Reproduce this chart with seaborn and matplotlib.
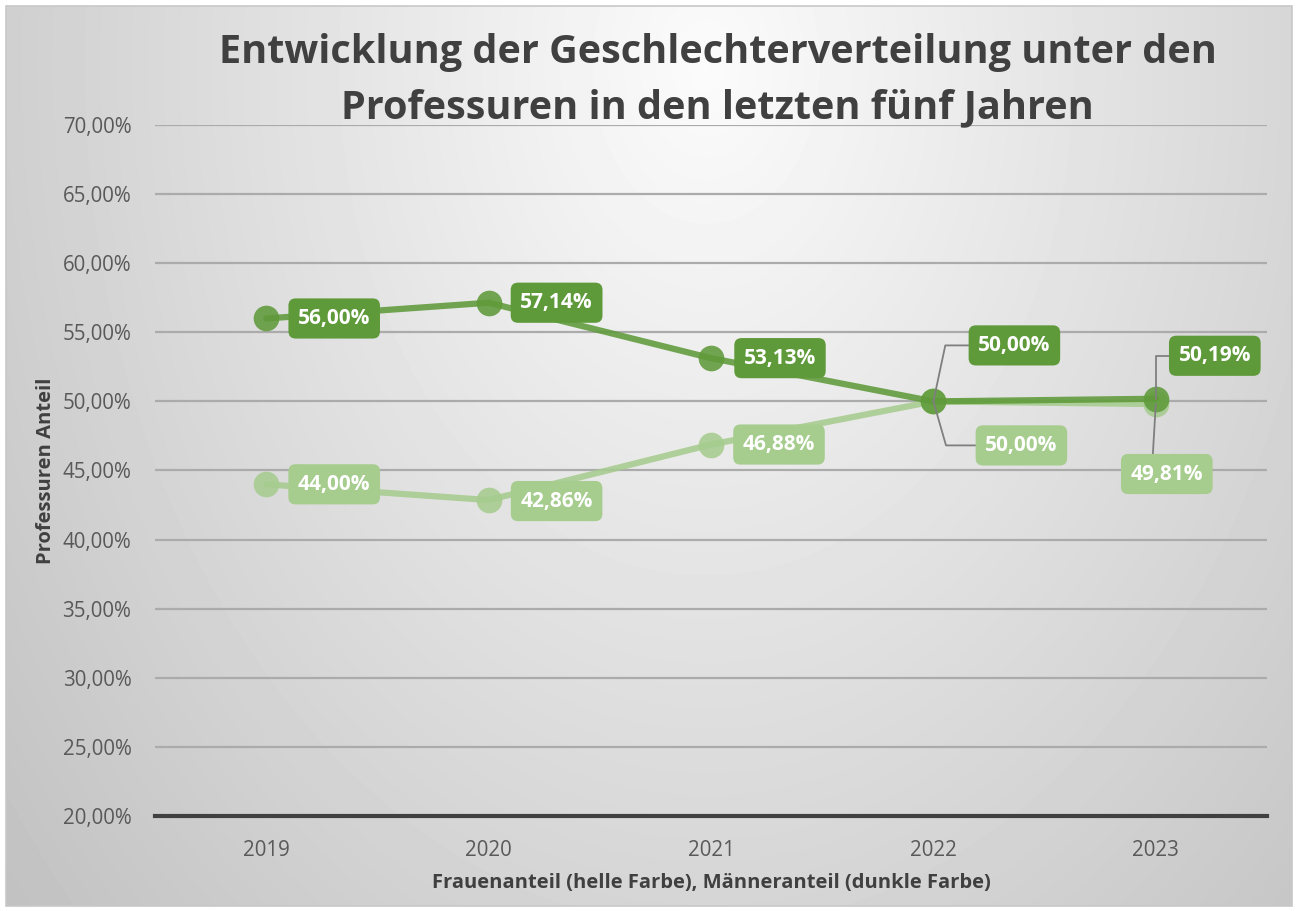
import numpy as np
import pandas as pd
import seaborn as sns
import matplotlib.pyplot as plt
from matplotlib.ticker import FuncFormatter, MultipleLocator

years = ["2019", "2020", "2021", "2022", "2023"]
maenner = [0.5600, 0.5714, 0.5313, 0.5000, 0.5019]
frauen = [0.4400, 0.4286, 0.4688, 0.5000, 0.4981]

dark = "#5F9A3A"
light = "#A6CC8E"

df = pd.DataFrame({
    "Jahr": years * 2,
    "Anteil": frauen + maenner,
    "Gruppe": ["Frauen"] * 5 + ["Männer"] * 5,
})

sns.set_theme(style="white")
plt.rcParams["font.family"] = ["Open Sans", "DejaVu Sans"]

fig = plt.figure(figsize=(12.98, 9.11), dpi=100)

# background: light radial gradient inside a thin frame
bg = fig.add_axes([6 / 1298, 5 / 911, 1286 / 1298, 900 / 911], zorder=-5)
yy, xx = np.mgrid[0:900, 0:1286]
d = np.sqrt(((xx - 700) / 650.0) ** 2 + ((yy - 60) / 900.0) ** 2)
shade = np.clip(0.985 - 0.16 * d, 0, 1)
bg.imshow(shade, cmap="gray", vmin=0, vmax=1, aspect="auto", interpolation="bilinear")
bg.set_axis_off()
frame = plt.Rectangle((0, 0), 1, 1, transform=bg.transAxes, fill=False,
                      ec="#C8C8C8", lw=1.2, clip_on=False)
bg.add_patch(frame)

ax = fig.add_axes([155 / 1298, 95 / 911, 1112 / 1298, 691 / 911])
ax.set_facecolor("none")

sns.lineplot(data=df, x="Jahr", y="Anteil", hue="Gruppe",
             hue_order=["Frauen", "Männer"],
             palette={"Frauen": light, "Männer": dark},
             marker="o", markersize=18.5, markeredgewidth=0,
             linewidth=4.5, alpha=0.88, legend=False, sort=False, ax=ax)

ax.set_xlim(-0.5, 4.5)
ax.set_ylim(0.2, 0.7)
ax.yaxis.set_major_locator(MultipleLocator(0.05))
ax.yaxis.set_major_formatter(FuncFormatter(lambda v, p: f"{v * 100:.2f}%".replace(".", ",")))
ax.grid(axis="y", color="#ABABAB", lw=1.6)
ax.grid(axis="x", visible=False)
ax.set_axisbelow(True)
for s in ["top", "right", "left"]:
    ax.spines[s].set_visible(False)
ax.spines["bottom"].set_color("#404040")
ax.spines["bottom"].set_linewidth(3)
ax.tick_params(axis="y", length=0, pad=17, labelsize=14.8, labelcolor="#595959")
ax.tick_params(axis="x", length=0, pad=17, labelsize=14.8, labelcolor="#595959")

ax.set_xlabel("Frauenanteil (helle Farbe), Männeranteil (dunkle Farbe)",
              fontsize=14.5, fontweight="bold", color="#404040", labelpad=9)
ax.set_ylabel("Professuren Anteil", fontsize=14.5, fontweight="bold",
              color="#404040", labelpad=5)

fig.text(0.553, 1 - 53 / 911, "Entwicklung der Geschlechterverteilung unter den",
         ha="center", va="center", fontsize=28.5, fontweight="bold", color="#404040")
fig.text(0.553, 1 - 108 / 911, "Professuren in den letzten fünf Jahren",
         ha="center", va="center", fontsize=28.5, fontweight="bold", color="#404040")


def fmt(v):
    return f"{v * 100:.2f}%".replace(".", ",")


# label offsets in pixels (box centre relative to point) and leader styles
dark_off = [(68, 0), (68, 0), (69, 0), (81, 56), (59, 43)]
light_off = [(68, 0), (68, -1), (68, 0), (88, -44), (11, -70)]
dark_lead = [None, None, None, ("angle,angleA=0,angleB=78", (0, 0.5)),
             ("angle,angleA=0,angleB=90", (0, 0.5))]
light_lead = [None, None, None, ("angle,angleA=0,angleB=-74", (0, 0.5)),
              ("arc3", (0.3, 1))]

for vals, offs, leads, col in [(frauen, light_off, light_lead, light),
                               (maenner, dark_off, dark_lead, dark)]:
    for i, v in enumerate(vals):
        arrow = None
        if leads[i] is not None:
            arrow = dict(arrowstyle="-", color="#7F7F7F", lw=1.3,
                         connectionstyle=leads[i][0], relpos=leads[i][1],
                         shrinkA=0, shrinkB=0)
        ax.annotate(fmt(v), xy=(i, v), xytext=offs[i], textcoords="offset pixels",
                    ha="center", va="center", fontsize=15, fontweight="bold",
                    color="white", zorder=6, arrowprops=arrow,
                    bbox=dict(boxstyle="round,pad=0.46,rounding_size=0.35",
                              fc=col, ec="none"))

fig.savefig("out.png", dpi=100)
